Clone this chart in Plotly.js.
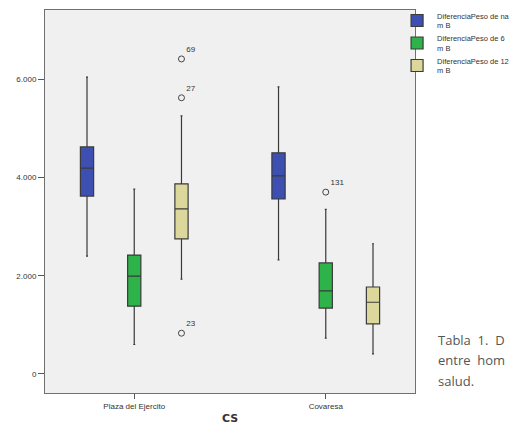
<!DOCTYPE html>
<html>
<head>
<meta charset="utf-8">
<script src="https://cdn.plot.ly/plotly-3.0.1.min.js"></script>
<style>html,body{margin:0;padding:0;background:#fff;}</style>
</head>
<body>
<div id="chart" style="width:515px;height:427px;"></div>
<script>
// ---- data ----
var categories = ['Plaza del Ejercito', 'Covaresa'];
var seriesNames = ['DiferenciaPeso de na<br>m B', 'DiferenciaPeso de 6<br>m B', 'DiferenciaPeso de 12<br>m B'];
// per series: [Plaza, Covaresa]
var lowerW = [[2400, 2320], [600, 730], [1930, 410]];
var q1s    = [[3620, 3560], [1380, 1340], [2750, 1020]];
var meds   = [[4190, 4030], [1990, 1690], [3360, 1460]];
var q3s    = [[4620, 4500], [2420, 2260], [3870, 1770]];
var upperW = [[6040, 5840], [3760, 3350], [5250, 2650]];
// outliers per series per category, with case labels
var outVals   = [[[], []], [[], [3700]], [[6410, 5620, 830], []]];
var outLabels = [[[], []], [[], ['131']], [['69', '27', '23'], []]];
var yTicks = [0, 2000, 4000, 6000];
var captionLines = ['Tabla&nbsp; 1.&nbsp; D', 'entre&nbsp; hom', 'salud.'];

// ---- style ----
var fills = ['#3d50b2', '#2db34a', '#dcd89c'];
var boxgap = 0.26, boxgroupgap = 0.72;
var W = 515, H = 427, mL = 45, mR = 100, mT = 10, mB = 34;
var xRange = [-0.466, 1.466];
var yRange = [-387, 7406];

var traces = seriesNames.map(function (name, s) {
  return {
    type: 'box',
    name: name,
    x: categories,
    q1: q1s[s], median: meds[s], q3: q3s[s],
    lowerfence: lowerW[s], upperfence: upperW[s],
    offsetgroup: String(s),
    fillcolor: fills[s],
    line: {color: '#3a3a3a', width: 1.2},
    whiskerwidth: 0.15,
    boxpoints: false,
    hoverinfo: 'y'
  };
});

// outlier points as scatter traces grouped like the boxes
seriesNames.forEach(function (name, s) {
  var xs = [], ys = [], txt = [];
  outVals[s].forEach(function (vals, c) {
    vals.forEach(function (v, k) {
      xs.push(categories[c]); ys.push(v); txt.push(outLabels[s][c][k]);
    });
  });
  if (xs.length === 0) { xs = categories.slice(); ys = [null, null]; txt = ['', '']; }
  traces.push({
    type: 'scatter', mode: 'markers+text',
    x: xs, y: ys, text: txt,
    textposition: 'top right',
    textfont: {family: 'Liberation Sans, Arial', size: 8, color: '#333'},
    offsetgroup: String(s),
    marker: {symbol: 'circle-open', size: 6, color: '#444', line: {width: 1, color: '#444'}},
    showlegend: false, hoverinfo: 'y', cliponaxis: false
  });
});

var annotations = [];
var capY = [0.138, 0.085, 0.031];
captionLines.forEach(function (t, i) {
  annotations.push({
    x: 1.057, y: capY[i], xref: 'paper', yref: 'paper',
    text: t, showarrow: false, xanchor: 'left', yanchor: 'middle',
    font: {family: 'Open Sans', size: 13, color: '#555'}
  });
});

var layout = {
  width: W, height: H,
  margin: {l: mL, r: mR, t: mT, b: mB, pad: 0, autoexpand: false},
  paper_bgcolor: '#ffffff',
  plot_bgcolor: '#f0f0f0',
  separators: ',.',
  boxmode: 'group',
  boxgap: boxgap, boxgroupgap: boxgroupgap,
  scattermode: 'group',
  scattergap: boxgap,
  showlegend: true,
  legend: {
    xref: 'container', yref: 'container',
    x: 0.771, y: 0.99, xanchor: 'left', yanchor: 'top',
    bgcolor: 'rgba(0,0,0,0)', borderwidth: 0,
    font: {family: 'Liberation Sans, Arial', size: 7.5, color: '#333'},
    tracegroupgap: 0, itemwidth: 30
  },
  xaxis: {
    type: 'category', range: xRange,
    showline: true, mirror: true, linecolor: '#707070', linewidth: 1,
    ticks: 'outside', ticklen: 5, tickcolor: '#555',
    tickfont: {family: 'Liberation Sans, Arial', size: 8, color: '#333'},
    showgrid: false, zeroline: false,
    title: {text: '<b>CS</b>', font: {family: 'DejaVu Sans', size: 11, color: '#333'}, standoff: 4}
  },
  yaxis: {
    range: yRange, tickvals: yTicks, tickformat: ',',
    showline: true, mirror: true, linecolor: '#707070', linewidth: 1,
    ticks: 'outside', ticklen: 6, tickcolor: '#555',
    tickfont: {family: 'Liberation Sans, Arial', size: 8, color: '#333'},
    showgrid: false, zeroline: false
  },
  annotations: annotations
};

Plotly.newPlot('chart', traces, layout, {displayModeBar: false, staticPlot: true});
</script>
</body>
</html>
